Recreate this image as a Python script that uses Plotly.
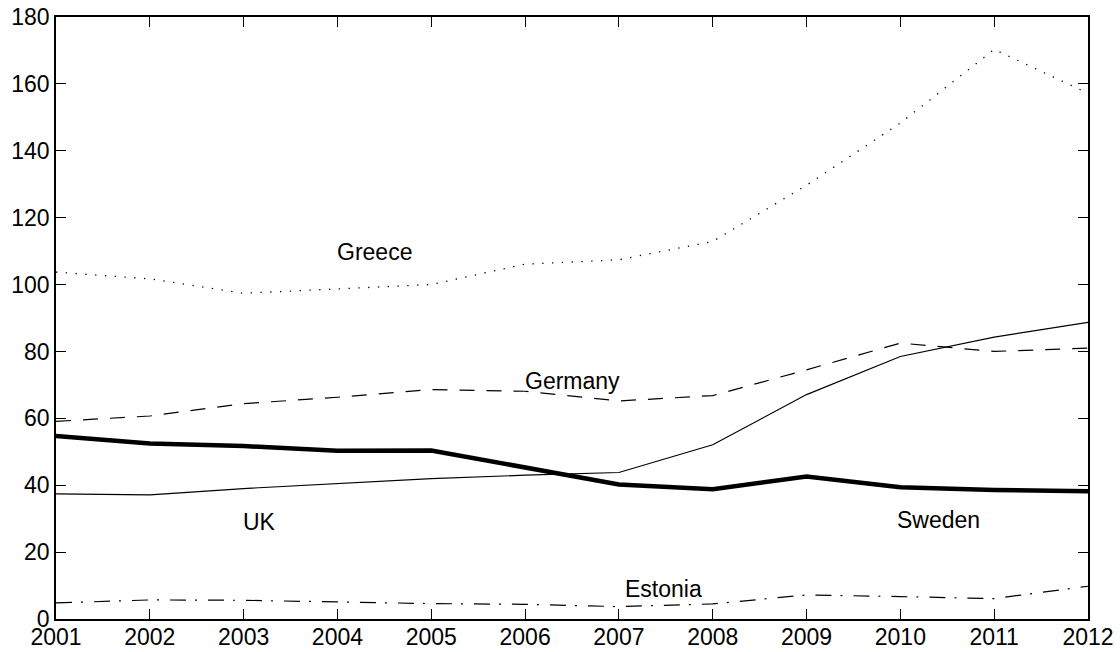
import plotly.graph_objects as go

# Years on the horizontal axis
years = list(range(2001, 2013))

# Government debt as % of GDP, by country
greece = [103.7, 101.7, 97.4, 98.6, 100.0, 106.1, 107.4, 112.9, 129.7, 148.3, 170.3, 157.2]
germany = [59.1, 60.7, 64.4, 66.3, 68.6, 68.1, 65.2, 66.8, 74.5, 82.5, 80.0, 81.0]
uk = [37.4, 37.1, 39.0, 40.6, 42.0, 43.0, 43.8, 52.1, 67.1, 78.5, 84.3, 88.7]
sweden = [54.7, 52.5, 51.7, 50.3, 50.4, 45.3, 40.2, 38.8, 42.6, 39.4, 38.6, 38.2]
estonia = [4.8, 5.7, 5.6, 5.0, 4.6, 4.4, 3.7, 4.5, 7.2, 6.7, 6.1, 9.8]

# Inline series labels: (text, year position, value position)
labels = [
    ("Greece", 2004.40, 109.7),
    ("Germany", 2006.51, 71.3),
    ("UK", 2003.17, 29.1),
    ("Sweden", 2010.41, 29.6),
    ("Estonia", 2007.47, 9.0),
]

y_ticks = list(range(0, 181, 20))

FONT = "Liberation Sans, Arial, Helvetica, sans-serif"

fig = go.Figure()

fig.add_trace(go.Scatter(x=years, y=greece, mode="lines",
                         line=dict(color="black", width=1.3, dash="1.3px,8.5px")))
fig.add_trace(go.Scatter(x=years, y=germany, mode="lines",
                         line=dict(color="black", width=1.2, dash="15px,12px")))
fig.add_trace(go.Scatter(x=years, y=uk, mode="lines",
                         line=dict(color="black", width=1.2)))
fig.add_trace(go.Scatter(x=years, y=sweden, mode="lines",
                         line=dict(color="black", width=4.5)))
fig.add_trace(go.Scatter(x=years, y=estonia, mode="lines",
                         line=dict(color="black", width=1.2, dash="16px,9px,2px,11px")))

for text, xv, yv in labels:
    fig.add_annotation(x=xv, y=yv, text=text, showarrow=False,
                       xanchor="center", yanchor="middle",
                       font=dict(family=FONT, size=23, color="black"))

axis_common = dict(
    showline=True, linecolor="black", linewidth=1.5, mirror="ticks",
    ticks="inside", ticklen=10, tickwidth=1.2, tickcolor="black",
    showgrid=False, zeroline=False, automargin=False,
    tickfont=dict(family=FONT, size=23, color="black"),
)

fig.update_layout(
    width=1120, height=652,
    margin=dict(l=56, r=32, t=17, b=33),
    paper_bgcolor="white", plot_bgcolor="white",
    showlegend=False,
    xaxis=dict(range=[2001, 2012], tickvals=years, ticktext=[str(y) for y in years],
               ticklabelstandoff=-3, **axis_common),
    yaxis=dict(range=[0, 180], tickvals=y_ticks, **axis_common),
)

fig.write_html("out.html")
